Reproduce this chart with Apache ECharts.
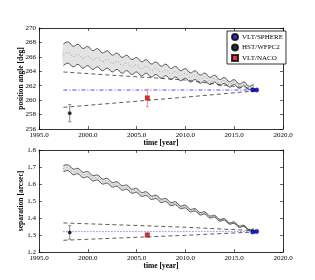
<!DOCTYPE html>
<html><head><meta charset="utf-8">
<script src="https://cdn.jsdelivr.net/npm/echarts@6/dist/echarts.min.js"></script>
<style>html,body{margin:0;padding:0;background:#fff}#c{width:315px;height:280px}</style>
</head><body><div id="c"></div>
<script>
// ---------- data ----------
const bandYears=[1997.5,1998.0,1998.5,1999.0,1999.5,2000.0,2000.5,2001.0,2001.5,2002.0,2002.5,2003.0,2003.5,2004.0,2004.5,2005.0,2005.5,2006.0,2006.5,2007.0,2007.5,2008.0,2008.5,2009.0,2009.5,2010.0,2010.5,2011.0,2011.5,2012.0,2012.5,2013.0,2013.5,2014.0,2014.5,2015.0,2015.5,2016.0,2016.5,2017.0];
const paUpper=[267.78,268.07,267.47,267.76,267.16,267.45,266.86,267.14,266.55,266.84,266.24,266.53,265.93,266.22,265.63,265.91,265.32,265.60,265.01,265.30,264.70,264.99,264.40,264.68,264.09,264.37,263.78,264.07,263.47,263.76,263.16,263.45,262.86,263.14,262.55,262.84,262.24,262.53,261.93,262.22];
const paLower=[264.78,265.13,264.61,264.96,264.43,264.78,264.26,264.61,264.08,264.44,263.91,264.26,263.73,264.09,263.56,263.91,263.38,263.74,263.21,263.56,263.04,263.39,262.86,263.21,262.69,263.04,262.51,262.86,262.34,262.69,262.16,262.52,261.99,262.34,261.81,262.17,261.64,261.99,261.47,261.82];
const paMid=[266.28,266.60,266.04,266.36,265.80,266.12,265.56,265.88,265.32,265.64,265.08,265.40,264.83,265.16,264.60,264.91,264.35,264.67,264.11,264.43,263.87,264.19,263.63,263.95,263.39,263.71,263.15,263.47,262.91,263.23,262.66,262.99,262.43,262.74,262.18,262.51,261.94,262.26,261.70,262.02];
const sepUpper=[1.708,1.712,1.688,1.692,1.669,1.673,1.649,1.653,1.629,1.633,1.609,1.613,1.590,1.594,1.570,1.574,1.550,1.554,1.530,1.534,1.511,1.515,1.491,1.495,1.471,1.475,1.451,1.455,1.432,1.436,1.412,1.416,1.392,1.396,1.372,1.377,1.353,1.357,1.333,1.337];
const sepLower=[1.673,1.678,1.655,1.660,1.637,1.642,1.618,1.623,1.600,1.605,1.582,1.587,1.564,1.569,1.546,1.551,1.527,1.532,1.509,1.514,1.491,1.496,1.473,1.478,1.455,1.459,1.436,1.441,1.418,1.423,1.400,1.405,1.382,1.387,1.364,1.368,1.345,1.350,1.327,1.332];
const sepMid=[1.6905,1.695,1.6715,1.676,1.653,1.6575,1.6335,1.638,1.6145,1.619,1.5955,1.600,1.577,1.5815,1.558,1.5625,1.5385,1.543,1.5195,1.524,1.501,1.5055,1.482,1.4865,1.463,1.467,1.4435,1.448,1.425,1.4295,1.406,1.4105,1.387,1.3915,1.368,1.3725,1.349,1.3535,1.330,1.3345];

const dashYears=[1997.5,2009.9,2017.3];
const paDashHi=[263.9,262.8,261.5];
const paDashLo=[259.0,260.4,261.3];
const sepDashHi=[1.371,1.346,1.325];
const sepDashLo=[1.269,1.298,1.318];

const refYears=[1997.5,2017.3];
const paRef=[261.4,261.4];
const sepRef=[1.32,1.32];

// measurements
const hstYears=[1998.15], hstPA=[258.2], hstPAerr=[1.2], hstSep=[1.315], hstSepErr=[0.04];
const nacoYears=[2006.1], nacoPA=[260.3], nacoPAerr=[1.2], nacoSep=[1.300], nacoSepErr=[0.01];
const sphereYears=[2016.9,2017.3], spherePA=[261.4,261.4], spherePAerr=[0.1,0.1], sphereSep=[1.317,1.321], sphereSepErr=[0.004,0.004];

const xTicks={min:1995,max:2020,interval:5};
const paTicks={min:256,max:270,interval:2};
const sepTicks={min:1.2,max:1.8,interval:0.1};

// ---------- chart ----------
const F='Liberation Serif';
const chart=echarts.init(document.getElementById('c'),null,{renderer:'canvas'});
const pair=(xs,ys)=>xs.map((x,i)=>[x,ys[i]]);
const tri=(xs,ys,es)=>xs.map((x,i)=>[x,ys[i],es[i]]);

function xAx(grid,top,name){
  return {gridIndex:grid,type:'value',min:xTicks.min,max:xTicks.max,interval:xTicks.interval,position:top?'top':'bottom',z:10,
    axisLine:{onZero:false,lineStyle:{color:'#000',width:0.8}},
    axisTick:{show:true,inside:true,length:3,lineStyle:{color:'#000',width:0.6}},
    axisLabel:{show:!top,fontFamily:F,fontSize:7,color:'#000',margin:3,formatter:v=>v.toFixed(1)},
    splitLine:{show:false},
    name:top?'':name,nameLocation:'middle',nameGap:10,nameMoveOverlap:false,
    nameTextStyle:{fontFamily:F,fontWeight:'bold',fontSize:7.5,color:'#000'}};
}
function yAx(grid,right,t,name,dec){
  return {gridIndex:grid,type:'value',min:t.min,max:t.max,interval:t.interval,position:right?'right':'left',z:10,
    axisLine:{onZero:false,lineStyle:{color:'#000',width:0.8}},
    axisTick:{show:true,inside:true,length:3,lineStyle:{color:'#000',width:0.6}},
    axisLabel:{show:!right,fontFamily:F,fontSize:7,color:'#000',margin:3,formatter:v=>v.toFixed(dec)},
    splitLine:{show:false},
    name:right?'':name,nameLocation:'middle',nameGap:14,nameRotate:90,nameMoveOverlap:false,
    nameTextStyle:{fontFamily:F,fontWeight:'bold',fontSize:7.5,color:'#000'}};
}
function errSeries(pts,color,xi,yi){
  return {type:'custom',xAxisIndex:xi,yAxisIndex:yi,data:pts,silent:true,z:4,
    encode:{x:0,y:1},
    renderItem:(p,api)=>{
      const x=api.value(0),y=api.value(1),e=api.value(2);
      const a=api.coord([x,y+e]),b=api.coord([x,y-e]);
      const st={stroke:color,lineWidth:1};
      return {type:'group',children:[
        {type:'line',shape:{x1:a[0],y1:a[1],x2:b[0],y2:b[1]},style:st},
        {type:'line',shape:{x1:a[0]-1.5,y1:a[1],x2:a[0]+1.5,y2:a[1]},style:st},
        {type:'line',shape:{x1:b[0]-1.5,y1:b[1],x2:b[0]+1.5,y2:b[1]},style:st}]};
    }};
}
function line(data,xi,yi,style,extra){
  return Object.assign({type:'line',xAxisIndex:xi,yAxisIndex:yi,data:data,symbol:'none',silent:true,
    lineStyle:style,z:3},extra||{});
}
// band: one custom item drawing a smoothed polygon (fill) plus the two smoothed boundary curves
function bandSeries(up,lo,mid,xi,yi){
  const rows=bandYears.map((x,i)=>[x,up[i],lo[i],mid[i]]);
  return {type:'custom',xAxisIndex:xi,yAxisIndex:yi,data:[rows[0]],silent:true,z:2,clip:true,
    encode:{x:0,y:1},
    renderItem:(p,api)=>{
      const pu=rows.map(r=>api.coord([r[0],r[1]]));
      const pl=rows.map(r=>api.coord([r[0],r[2]]));
      const pm=rows.map(r=>api.coord([r[0],r[3]]));
      const poly=pu.concat(pl.slice().reverse());
      const S=0.45;
      return {type:'group',children:[
        {type:'polygon',shape:{points:poly,smooth:S},style:{fill:'#e3e3e3',stroke:null},z2:1},
        {type:'polyline',shape:{points:pm,smooth:S},style:{stroke:'#8a8a8a',lineWidth:0.8,lineDash:[1,2],fill:null},z2:2},
        {type:'polyline',shape:{points:pu,smooth:S},style:{stroke:'#333',lineWidth:0.8,fill:null},z2:3},
        {type:'polyline',shape:{points:pl,smooth:S},style:{stroke:'#333',lineWidth:0.8,fill:null},z2:3}
      ]};
    }};
}
function pts(name,xs,ys,sym,size,color,xi,yi){
  return {type:'scatter',name:name,xAxisIndex:xi,yAxisIndex:yi,data:pair(xs,ys),symbol:sym,symbolSize:size,
    itemStyle:{color:color,borderColor:'#000',borderWidth:0.3},z:5,silent:true};
}

const series=[
  bandSeries(paUpper,paLower,paMid,0,0),
  line(pair(dashYears,paDashHi),0,0,{color:'#333',width:0.8,type:[4,3]}),
  line(pair(dashYears,paDashLo),0,0,{color:'#333',width:0.8,type:[4,3]}),
  line(pair(refYears,paRef),0,0,{color:'#2020ff',width:0.8,type:[4,2,1,2]}),
  errSeries(tri(hstYears,hstPA,hstPAerr),'#888',0,0),
  errSeries(tri(nacoYears,nacoPA,nacoPAerr),'#f29090',0,0),
  errSeries(tri(sphereYears,spherePA,spherePAerr),'#8080ff',0,0),
  pts('HST/WFPC2',hstYears,hstPA,'circle',3.5,'#000',0,0),
  pts('VLT/NACO',nacoYears,nacoPA,'rect',4.5,'#e00000',0,0),
  pts('VLT/SPHERE',sphereYears,spherePA,'circle',4.5,'#0000c8',0,0),
  bandSeries(sepUpper,sepLower,sepMid,2,2),
  line(pair(dashYears,sepDashHi),2,2,{color:'#333',width:0.8,type:[4,3]}),
  line(pair(dashYears,sepDashLo),2,2,{color:'#333',width:0.8,type:[4,3]}),
  line(pair(refYears,sepRef),2,2,{color:'#2020ff',width:0.8,type:[1,2]}),
  errSeries(tri(hstYears,hstSep,hstSepErr),'#888',2,2),
  errSeries(tri(nacoYears,nacoSep,nacoSepErr),'#f29090',2,2),
  errSeries(tri(sphereYears,sphereSep,sphereSepErr),'#8080ff',2,2),
  pts('HST/WFPC2',hstYears,hstSep,'circle',3.5,'#000',2,2),
  pts('VLT/NACO',nacoYears,nacoSep,'rect',4.5,'#e00000',2,2),
  pts('VLT/SPHERE',sphereYears,sphereSep,'circle',4.5,'#0000c8',2,2)
];

chart.setOption({
  animation:false,
  backgroundColor:'#fff',
  grid:[{left:39,top:28,width:244,height:101},{left:39,top:150,width:244,height:102}],
  xAxis:[xAx(0,false,'time [year]'),xAx(0,true),xAx(1,false,'time [year]'),xAx(1,true)],
  yAxis:[yAx(0,false,paTicks,'position angle [deg]',0),yAx(0,true,paTicks,'',0),
         yAx(1,false,sepTicks,'separation [arcsec]',1),yAx(1,true,sepTicks,'',1)],
  legend:{data:['VLT/SPHERE','HST/WFPC2','VLT/NACO'],orient:'vertical',left:227,top:31,
    itemWidth:6,itemHeight:6,itemGap:2.5,padding:[2,3,2,4],
    borderColor:'#000',borderWidth:0.8,backgroundColor:'#fff',z:20,
    textStyle:{fontFamily:F,fontSize:7,color:'#000',padding:[0,0,0,-1]}},
  series:series
});
</script></body></html>
